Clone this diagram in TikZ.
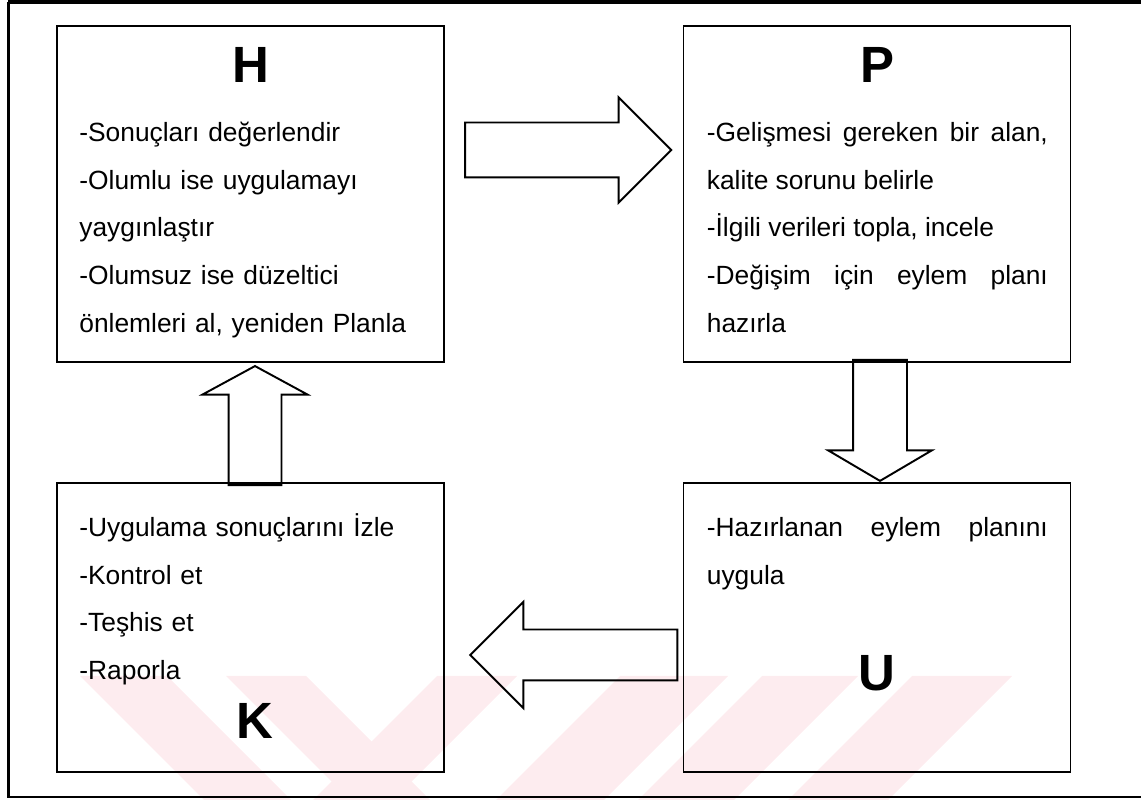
\documentclass[tikz,border=0pt]{standalone}
\usepackage{fontspec}
\setmainfont{Liberation Sans}
\usepackage{xcolor}
\usetikzlibrary{shapes.arrows,positioning,calc}
\definecolor{markPink}{RGB}{253,236,239}
\tikzstyle{box} = [rectangle, draw, line width = 1.1pt, inner sep = 0pt, minimum width = 7.74cm]
\tikzstyle{boxTop} = [box, minimum height = 6.72cm]
\tikzstyle{boxBottom} = [box, minimum height = 5.78cm]
\tikzstyle{letter} = [inner sep = 0pt, font = \fontsize{29}{32}\selectfont\bfseries]
\tikzstyle{textLeft} = [anchor = base west, inner sep = 0pt, text width = 7cm, align = left, font = \fontsize{15}{27.3}\selectfont]
\tikzstyle{textJust} = [textLeft, text width = 6.82cm, align = justify]
\tikzstyle{bigArrow} = [single arrow, draw, line width = 1.1pt, inner xsep = 0pt, single arrow head indent = 0pt, anchor = tip]

\begin{document}
\begin{tikzpicture}
        \useasboundingbox (0,0) rectangle (22.82,-16);
        % watermark
        \foreach \a/\b/\s in {1.6/3.34/2.48, 4.52/6.12/2.48, 8.74/10.34/-2.48, 12.4/14.56/-2.48, 15.24/17.16/-2.48, 18.24/20.24/-2.48}
            \fill[markPink] (\a,-13.52) -- (\b,-13.52) -- ++(\s,-2.48) -- ++({\a-\b},0) -- cycle;
        % frame
        \draw[line width = 2.3pt] (0.17,-0.04) -- (23,-0.04);
        \draw[line width = 1.2pt] (0.17,-0.04) -- (0.17,-15.94) -- (23,-15.94);

        \node(H) [boxTop] at (5.01,-3.88) {};
        \node(P) [boxTop, right of = H, node distance = 12.53cm] {};
        \node(K) [boxBottom, below of = H, node distance = 8.67cm] {};
        \node(U) [boxBottom, right of = K, node distance = 12.53cm] {};

        \node(Hletter) [letter, below = 0.45cm of H.north] {H};
        \node(Pletter) [letter, below = 0.45cm of P.north] {P};
        \node(Kletter) [letter, above = 0.68cm of K.south, xshift = 0.09cm] {K};
        \node(Uletter) [letter, above = 1.64cm of U.south] {U};

        \node(Htext) [textLeft] at ($(H.north west)+(0.46,-2.32)$) {-Sonuçları değerlendir\\-Olumlu ise uygulamayı\\yaygınlaştır\\-Olumsuz ise düzeltici\\önlemleri al, yeniden Planla};
        \node(Ptext) [textJust] at ($(P.north west)+(0.48,-2.32)$) {-Gelişmesi gereken bir alan,\linebreak kalite sorunu belirle\\-İlgili verileri topla, incele\\-Değişim için eylem planı\linebreak hazırla};
        \node(Ktext) [textLeft] at ($(K.north west)+(0.46,-1.08)$) {-Uygulama sonuçlarını İzle\\-Kontrol et\\-Teşhis et\\-Raporla};
        \node(Utext) [textJust] at ($(U.north west)+(0.48,-1.08)$) {-Hazırlanan eylem planını\linebreak uygula};

        \node(HtoP) [bigArrow, inner ysep = 0.53cm, minimum height = 4.12cm, minimum width = 2.06cm, single arrow head extend = 0.5cm] at ($(P.west)+(-0.2,0.88)$) {};
        \node(PtoU) [bigArrow, rotate = -90, inner ysep = 0.52cm, minimum height = 2.42cm, minimum width = 2.04cm, single arrow head extend = 0.5cm, single arrow tip angle = 119] at ($(U.north)+(0.06,0)$) {};
        \node(UtoK) [bigArrow, rotate = 180, inner ysep = 0.49cm, minimum height = 4.14cm, minimum width = 2.08cm, single arrow head extend = 0.55cm] at ($(K.east)+(0.48,-0.55)$) {};
        \node(KtoH) [bigArrow, rotate = 90, inner ysep = 0.51cm, minimum height = 2.38cm, minimum width = 2.06cm, single arrow head extend = 0.52cm, single arrow tip angle = 123] at ($(H.south)+(0.09,-0.04)$) {};
\end{tikzpicture}
\end{document}
